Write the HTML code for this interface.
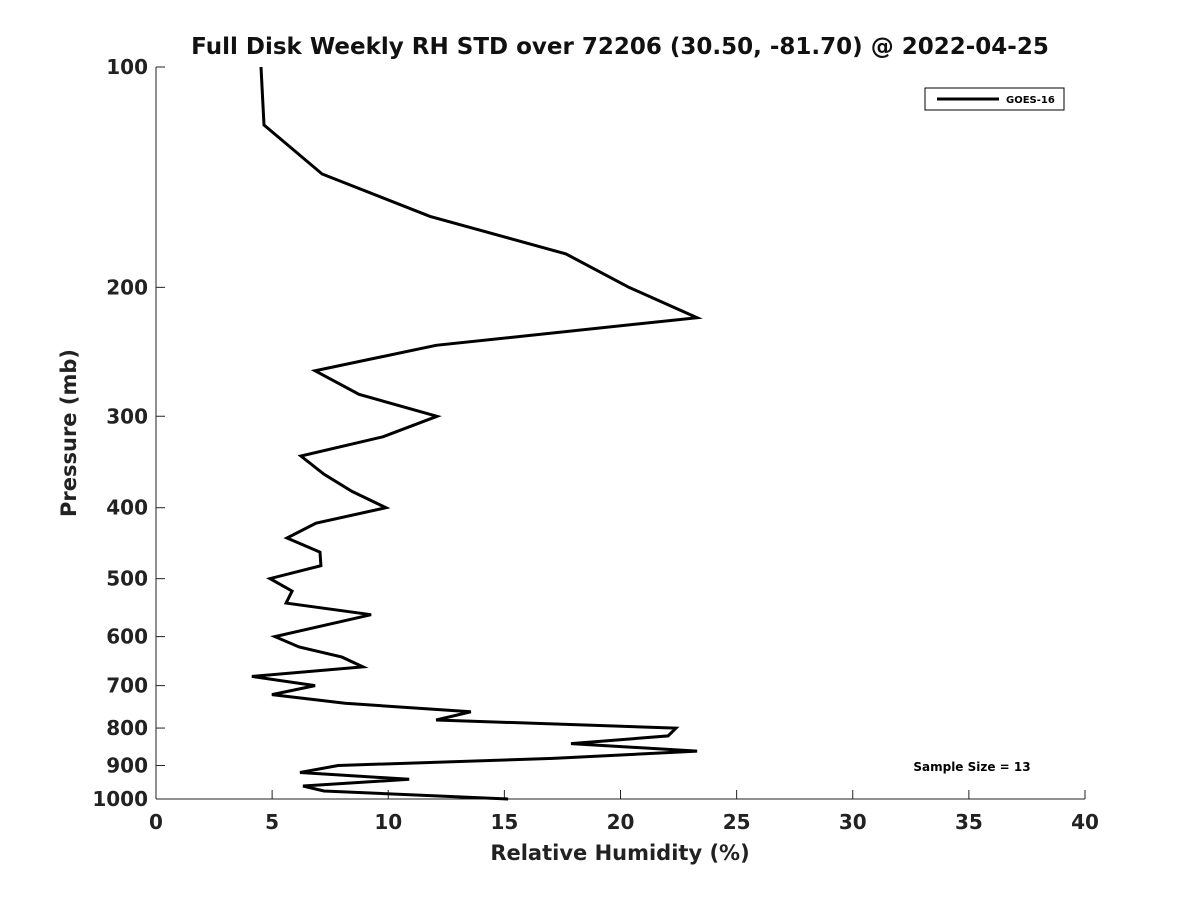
<!DOCTYPE html>
<html><head><meta charset="utf-8"><style>
body{margin:0;background:#fff;font-family:"Liberation Sans","DejaVu Sans",sans-serif;}
svg text{font-family:"DejaVu Sans","Liberation Sans",sans-serif;}
</style></head><body>
<svg id="chart" width="1200" height="900" xmlns="http://www.w3.org/2000/svg">
<rect width="1200" height="900" fill="#fff"/>
<text x="620" y="54" text-anchor="middle" font-size="23" font-weight="bold" fill="#111">Full Disk Weekly RH STD over 72206 (30.50, -81.70) @ 2022-04-25</text>
<g id="axes"></g>
<path id="line" fill="none" stroke="#000" stroke-width="3" stroke-linejoin="miter"/>
<text x="620" y="860" text-anchor="middle" font-size="21" font-weight="bold" fill="#222">Relative Humidity (%)</text>
<text transform="translate(76,433) rotate(-90)" text-anchor="middle" font-size="21" font-weight="bold" fill="#222">Pressure (mb)</text>
<g>
<rect x="925" y="88" width="139" height="22" fill="#fff" stroke="#000" stroke-width="1"/>
<line x1="937" y1="99" x2="999" y2="99" stroke="#000" stroke-width="3"/>
<text x="1006" y="103" font-size="10" font-weight="bold">GOES-16</text>
</g>
<text x="972" y="771" text-anchor="middle" font-size="12" font-weight="bold">Sample Size = 13</text>
</svg>
<script>
const pressures=[100,120,140,160,180,200,220,240,260,280,300,320,340,360,380,400,420,440,460,480,500,520,540,560,600,620,640,660,680,700,720,740,760,780,800,820,840,860,880,900,920,940,960,975,1000];
const rhStd=[4.52,4.65,7.15,11.8,17.65,20.37,23.3,12.06,6.85,8.74,12.1,9.77,6.24,7.23,8.44,9.9,6.89,5.64,7.06,7.1,4.91,5.86,5.6,9.26,5.12,6.16,8.01,8.91,4.13,6.85,4.99,8.14,13.56,12.06,22.39,22.05,17.87,23.3,17.09,7.84,6.2,10.9,6.33,7.23,15.16];
const xTicks=[0,5,10,15,20,25,30,35,40];
const yTicks=[100,200,300,400,500,600,700,800,900,1000];
const X0=156,X1=1085,Y0=67,Y1=799;
const xs=v=>X0+(v/40)*(X1-X0);
const ys=p=>Y0+(Math.log10(p)-2)*(Y1-Y0);
const NS="http://www.w3.org/2000/svg";
const ax=document.getElementById('axes');
function mk(t,a){const e=document.createElementNS(NS,t);for(const k in a)e.setAttribute(k,a[k]);ax.appendChild(e);return e;}
let e=mk('line',{x1:X0,y1:Y0,x2:X0,y2:Y1,stroke:'#222','stroke-width':1});


e=mk('line',{x1:X0,y1:Y1,x2:X1,y2:Y1,stroke:'#222','stroke-width':1});


xTicks.forEach(v=>{const x=xs(v);
 mk('line',{x1:x,y1:Y1,x2:x,y2:Y1-9,stroke:'#222'});
 const t=mk('text',{x:x,y:Y1+30,'text-anchor':'middle','font-size':20,'font-weight':'bold',fill:'#222'});
 t.textContent=v;
 
 });
yTicks.forEach(p=>{const y=ys(p);
 mk('line',{x1:X0,y1:y,x2:X0+9,y2:y,stroke:'#222'});
 const t=mk('text',{x:X0-8,y:y+7,'text-anchor':'end','font-size':20,'font-weight':'bold',fill:'#222'});
 t.textContent=p;
 
 });
document.getElementById('line').setAttribute('d',pressures.map((p,i)=>(i?'L':'M')+xs(rhStd[i]).toFixed(1)+','+ys(p).toFixed(1)).join(' '));
</script>
</body></html>
